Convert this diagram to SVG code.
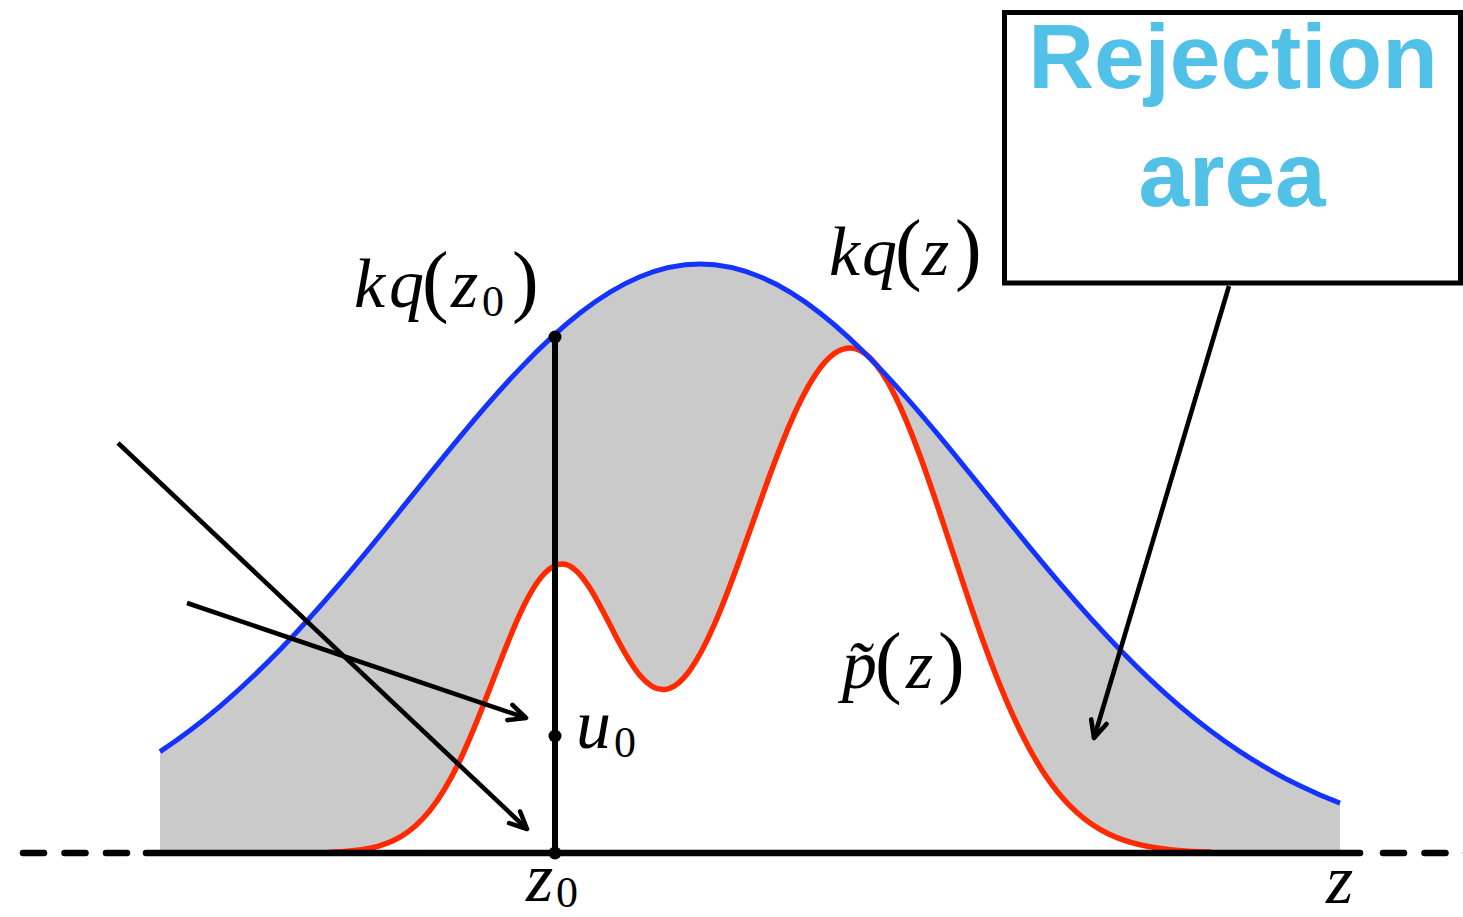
<svg xmlns="http://www.w3.org/2000/svg" width="1463" height="917" viewBox="0 0 1463 917">
<defs>
<style>
.m{font-family:"Liberation Serif","Times New Roman",serif;font-style:italic;font-size:70px;fill:#000}
.sub{font-style:normal;font-size:44px}
.par{font-style:normal;font-size:80px}
.rej{font-family:"Liberation Sans",Arial,sans-serif;font-weight:bold;font-size:91px;fill:#52c1e8;text-anchor:middle}
.conn{stroke:#000;stroke-width:4.6;fill:none;marker-end:url(#ah)}
.ax{stroke:#000;stroke-width:6.5;fill:none;stroke-linecap:round}
.dash{stroke-dasharray:21 20.5}
</style>
<marker id="ah" markerUnits="userSpaceOnUse" viewBox="-22 -12 26 24" markerWidth="26" markerHeight="24" refX="0" refY="0" orient="auto">
<path d="M-17,-8 L0,0 L-17,8" fill="none" stroke="#000" stroke-width="4.6" stroke-linecap="round" stroke-linejoin="round"/>
</marker>
<path id="redc" d="M330,852.3 C343.33,851.81 356.67,850.97 370,848.2 C380,846.12 390,842.84 400,837.1 C410,831.36 420,822.92 430,810.4 C440,797.88 450,781.15 460,760.2 C470,739.25 480,714.08 490,688.1 C500,662.12 510,635.43 520,613.8 C528.33,595.78 536.67,581.39 545,572.9 C551.67,566.11 558.33,562.81 565,564.2 C573.33,565.94 581.67,575.06 590,588.3 C598.33,601.54 606.67,618.67 615,634.7 C623.33,650.73 631.67,665.51 640,675.4 C648.33,685.29 656.67,690.32 665,689.4 C673.33,688.48 681.67,681.68 690,670.1 C698.33,658.52 706.67,642.26 715,623 C723.33,603.74 731.67,581.58 740,558.5 C748.33,535.42 756.67,511.44 765,488.4 C773.33,465.36 781.67,443.35 790,423.9 C798.33,404.45 806.67,387.94 815,375.3 C821.67,365.19 828.33,357.63 835,353.1 C840,349.7 845,348 850,348 C856.67,348 863.33,351.33 870,357.8 C878.33,365.89 886.67,378.89 895,395.7 C903.33,412.51 911.67,433.09 920,455.8 C928.33,478.51 936.67,503.32 945,528.5 C953.33,553.68 961.67,579.26 970,603.7 C978.33,628.14 986.67,651.46 995,672.8 C1003.33,694.14 1011.67,713.49 1020,730.5 C1028.33,747.51 1036.67,762.22 1045,774.7 C1053.33,787.18 1061.67,797.43 1070,805.9 C1080,816.06 1090,823.62 1100,829.4 C1110,835.18 1120,839.23 1130,842.2 C1143.33,846.16 1156.67,848.3 1170,849.7 C1183.33,851.1 1196.67,851.69 1210,852.1"/>
<path id="bluec" d="M160,751.6 C180,738.4 200,723.3 220,706.3 C240,689.3 260,670.3 280,649.7 C300,629.1 320,606.8 340,583.4 C360,560 380,535.5 400,510.7 C420,485.9 440,461 460,436.9 C480,412.8 500,389.6 520,368.6 C540,347.6 560,328.6 580,313 C600,297.4 620,285 640,276.7 C660,268.4 680,264 700,264 C720,264 740,268.4 760,276.7 C780,285 800,297.4 820,313 C840,328.6 860,347.6 880,368.6 C900,389.6 920,412.8 940,436.9 C960,461 980,485.9 1000,510.7 C1020,535.5 1040,560 1060,583.4 C1080,606.8 1100,629.1 1120,649.7 C1140,670.3 1160,689.3 1180,706.3 C1200,723.3 1220,738.4 1240,751.6 C1260,764.8 1280,776.1 1300,785.8 C1313.3,792.3 1326.7,798.1 1340,803.2"/>
</defs>
<rect width="1463" height="917" fill="#fff"/>
<g id="areas">
<path id="rejection-fill" fill="#cacaca" d="M160,853 L160,751.6 C180,738.4 200,723.3 220,706.3 C240,689.3 260,670.3 280,649.7 C300,629.1 320,606.8 340,583.4 C360,560 380,535.5 400,510.7 C420,485.9 440,461 460,436.9 C480,412.8 500,389.6 520,368.6 C540,347.6 560,328.6 580,313 C600,297.4 620,285 640,276.7 C660,268.4 680,264 700,264 C720,264 740,268.4 760,276.7 C780,285 800,297.4 820,313 C840,328.6 860,347.6 880,368.6 C900,389.6 920,412.8 940,436.9 C960,461 980,485.9 1000,510.7 C1020,535.5 1040,560 1060,583.4 C1080,606.8 1100,629.1 1120,649.7 C1140,670.3 1160,689.3 1180,706.3 C1200,723.3 1220,738.4 1240,751.6 C1260,764.8 1280,776.1 1300,785.8 C1313.3,792.3 1326.7,798.1 1340,803.2 L1340,853 Z"/>
<path id="accept-fill" fill="#fff" d="M330,852.3 C343.33,851.81 356.67,850.97 370,848.2 C380,846.12 390,842.84 400,837.1 C410,831.36 420,822.92 430,810.4 C440,797.88 450,781.15 460,760.2 C470,739.25 480,714.08 490,688.1 C500,662.12 510,635.43 520,613.8 C528.33,595.78 536.67,581.39 545,572.9 C551.67,566.11 558.33,562.81 565,564.2 C573.33,565.94 581.67,575.06 590,588.3 C598.33,601.54 606.67,618.67 615,634.7 C623.33,650.73 631.67,665.51 640,675.4 C648.33,685.29 656.67,690.32 665,689.4 C673.33,688.48 681.67,681.68 690,670.1 C698.33,658.52 706.67,642.26 715,623 C723.33,603.74 731.67,581.58 740,558.5 C748.33,535.42 756.67,511.44 765,488.4 C773.33,465.36 781.67,443.35 790,423.9 C798.33,404.45 806.67,387.94 815,375.3 C821.67,365.19 828.33,357.63 835,353.1 C840,349.7 845,348 850,348 C856.67,348 863.33,351.33 870,357.8 C878.33,365.89 886.67,378.89 895,395.7 C903.33,412.51 911.67,433.09 920,455.8 C928.33,478.51 936.67,503.32 945,528.5 C953.33,553.68 961.67,579.26 970,603.7 C978.33,628.14 986.67,651.46 995,672.8 C1003.33,694.14 1011.67,713.49 1020,730.5 C1028.33,747.51 1036.67,762.22 1045,774.7 C1053.33,787.18 1061.67,797.43 1070,805.9 C1080,816.06 1090,823.62 1100,829.4 C1110,835.18 1120,839.23 1130,842.2 C1143.33,846.16 1156.67,848.3 1170,849.7 C1183.33,851.1 1196.67,851.69 1210,852.1 Z"/>
</g>
<g id="p-curve">
<use href="#redc" fill="none" stroke="#ff2a00" stroke-width="5.5" stroke-linecap="round"/>
</g>
<g id="kq-curve">
<use href="#bluec" fill="none" stroke="#1433ff" stroke-width="5"/>
</g>
<g id="axis">
<path class="ax" d="M146,853 H1360"/>
<path class="ax dash" d="M23,853 H145"/>
<path class="ax dash" d="M1383,853 H1470"/>
</g>
<g id="sample-line">
<line x1="555" y1="337" x2="555" y2="853" stroke="#000" stroke-width="6"/>
<circle cx="555" cy="337" r="6.5" fill="#000"/>
<circle cx="555" cy="736" r="6.5" fill="#000"/>
<circle cx="555" cy="853" r="6.5" fill="#000"/>
</g>
<g id="connectors">
<line class="conn" x1="118" y1="443" x2="527" y2="829"/>
<line class="conn" x1="187" y1="603" x2="526" y2="718"/>
<line class="conn" x1="1229" y1="286" x2="1094" y2="738"/>
</g>
<g id="label-kqz0">
<text class="m"><tspan x="354" y="307">k</tspan><tspan x="389">q</tspan><tspan class="par" x="422">(</tspan><tspan x="451">z</tspan><tspan class="sub" x="482" y="316">0</tspan><tspan class="par" x="512" y="307">)</tspan></text>
</g>
<g id="label-kqz">
<text class="m"><tspan x="829" y="275">k</tspan><tspan x="862">q</tspan><tspan class="par" x="895">(</tspan><tspan x="922">z</tspan><tspan class="par" x="955">)</tspan></text>
</g>
<g id="label-pz">
<text class="m"><tspan x="842" y="688">p̃</tspan><tspan class="par" x="875">(</tspan><tspan x="906">z</tspan><tspan class="par" x="938">)</tspan></text>
</g>
<g id="label-u0">
<text class="m"><tspan x="576" y="748">u</tspan><tspan class="sub" x="614" y="757">0</tspan></text>
</g>
<g id="label-z0">
<text class="m"><tspan x="526" y="901">z</tspan><tspan class="sub" x="556" y="907">0</tspan></text>
</g>
<g id="label-z">
<text class="m" x="1326" y="903">z</text>
</g>
<g id="rejection-box">
<rect x="1004.5" y="12.5" width="456" height="270.5" fill="#fff" stroke="#000" stroke-width="5"/>
<text class="rej" x="1233" y="88">Rejection</text>
<text class="rej" x="1232" y="206">area</text>
</g>
</svg>
